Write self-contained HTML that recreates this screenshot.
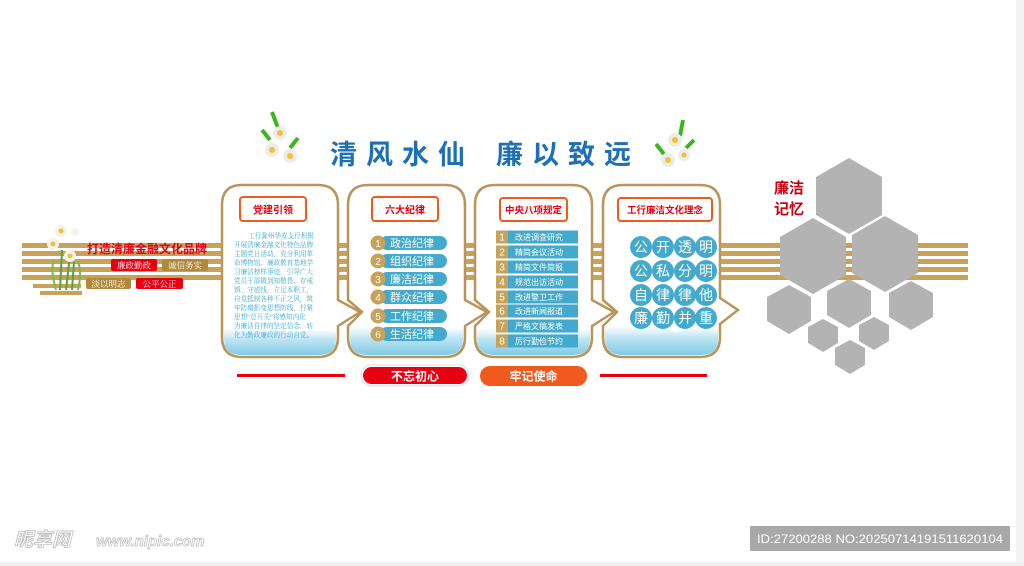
<!DOCTYPE html>
<html><head><meta charset="utf-8">
<style>
html,body{margin:0;padding:0;background:#fff;}
svg{display:block;font-family:"Liberation Sans","Noto Sans CJK SC",sans-serif;}
</style></head><body>
<svg width="1024" height="566" viewBox="0 0 1024 566" xmlns="http://www.w3.org/2000/svg">
<defs>
<linearGradient id="wat" x1="0" y1="0" x2="0" y2="1">
<stop offset="0" stop-color="#e6f5fb" stop-opacity="0"/>
<stop offset="0.4" stop-color="#c4e7f4"/>
<stop offset="1" stop-color="#7fcbe6"/>
</linearGradient>
</defs>
<g fill="#c9a25a">
<rect x="22" y="243" width="946" height="5"/>
<rect x="22" y="251" width="946" height="5"/>
<rect x="22" y="259" width="946" height="5"/>
<rect x="22" y="267" width="946" height="5"/>
<rect x="22" y="275" width="946" height="5"/>
<rect x="33" y="284" width="48" height="4"/>
<rect x="40" y="291" width="42" height="4"/>
</g>
<g>
<path d="M60 290 L62 250 M66 290 L70 255 M72 290 L74 262" stroke="#5aa23a" stroke-width="2" fill="none"/>
<path d="M56 290 Q50 270 54 260 M78 290 Q82 272 78 262" stroke="#7ab84a" stroke-width="2" fill="none"/>
<circle cx="61" cy="231" r="6" fill="#f3f3ee"/><circle cx="61" cy="231" r="2.5" fill="#f2c230"/>
<circle cx="53" cy="244" r="6" fill="#f3f3ee"/><circle cx="53" cy="244" r="2.5" fill="#f2c230"/>
<circle cx="70" cy="256" r="6" fill="#f3f3ee"/><circle cx="70" cy="256" r="2.5" fill="#f2c230"/>
<circle cx="75" cy="232" r="4" fill="#f3f3ee"/>
</g>
<text x="87" y="253" font-size="12" font-weight="bold" fill="#e60012">打造清廉金融文化品牌</text>
<rect x="111" y="259" width="46" height="12" rx="2" fill="#e60012"/><text x="134" y="268.5" font-size="8.5" fill="#fff" text-anchor="middle" font-family="Liberation Serif,Noto Serif CJK SC,serif">廉政勤政</text>
<rect x="162" y="259" width="46" height="12" rx="2" fill="#b08a3a"/><text x="185" y="268.5" font-size="8.5" fill="#fff" text-anchor="middle" font-family="Liberation Serif,Noto Serif CJK SC,serif">诚信务实</text>
<rect x="86" y="278" width="45" height="11" rx="2" fill="#b08a3a"/><text x="108.5" y="287" font-size="8.5" fill="#fff" text-anchor="middle" font-family="Liberation Serif,Noto Serif CJK SC,serif">淡以明志</text>
<rect x="136" y="278" width="47" height="11" rx="2" fill="#e60012"/><text x="159.5" y="287" font-size="8.5" fill="#fff" text-anchor="middle" font-family="Liberation Serif,Noto Serif CJK SC,serif">公平公正</text>

<text x="330" y="164" font-size="27" font-weight="bold" fill="#1f6fb5" letter-spacing="9">清风水仙</text>
<text x="496" y="164" font-size="27" font-weight="bold" fill="#1f6fb5" letter-spacing="9">廉以致远</text>
<g>
<path d="M272 112 L278 128 M262 130 L270 140 M298 138 L290 148" stroke="#3cb521" stroke-width="4" fill="none"/>
<circle cx="280" cy="133" r="7" fill="#ececec"/><circle cx="280" cy="133" r="3" fill="#f2c230"/>
<circle cx="272" cy="150" r="7" fill="#ececec"/><circle cx="272" cy="150" r="3" fill="#f2c230"/>
<circle cx="290" cy="156" r="7" fill="#ececec"/><circle cx="290" cy="156" r="3" fill="#f2c230"/>
<path d="M683 120 L680 136 M656 144 L664 154 M694 140 L686 148" stroke="#3cb521" stroke-width="4" fill="none"/>
<circle cx="675" cy="140" r="7" fill="#ececec"/><circle cx="675" cy="140" r="3" fill="#f2c230"/>
<circle cx="668" cy="160" r="7" fill="#ececec"/><circle cx="668" cy="160" r="3" fill="#f2c230"/>
<circle cx="684" cy="155" r="6" fill="#ececec"/><circle cx="684" cy="155" r="2.5" fill="#f2c230"/>
</g>

<g fill="#fff" stroke="#b8955a" stroke-width="2.5">
<path d="M242 185 H318 Q338 185 338 205 V300 L360 312 L338 326 V337 Q338 357 318 357 H242 Q222 357 222 337 V205 Q222 185 242 185 Z"/>
<path d="M368 185 H445 Q465 185 465 205 V300 L487 312 L465 326 V337 Q465 357 445 357 H368 Q348 357 348 337 V326 L362 312 L348 300 V205 Q348 185 368 185 Z"/>
<path d="M495 185 H572 Q592 185 592 205 V300 L614 312 L592 326 V337 Q592 357 572 357 H495 Q475 357 475 337 V326 L489 312 L475 300 V205 Q475 185 495 185 Z"/>
<path d="M623 185 H700 Q720 185 720 205 V298 L738 310 L720 324 V337 Q720 357 700 357 H623 Q603 357 603 337 V326 L617 312 L603 300 V205 Q603 185 623 185 Z"/>
</g>
<g fill="url(#wat)">
<path d="M224 330 Q260 322 290 334 Q315 328 336 332 V340 Q336 355 318 355 H242 Q224 355 224 340 Z"/>
<path d="M350 328 Q390 320 420 332 Q445 326 463 330 V340 Q463 355 445 355 H368 Q350 355 350 340 Z"/>
<path d="M477 330 Q515 322 545 334 Q570 326 590 330 V340 Q590 355 572 355 H495 Q477 355 477 340 Z"/>
<path d="M605 328 Q645 318 675 332 Q700 326 718 330 V340 Q718 355 700 355 H623 Q605 355 605 340 Z"/>
</g>

<rect x="240" y="197" width="66" height="24" rx="3" fill="#fff" stroke="#f05a1e" stroke-width="2"/>
<text x="273" y="213.5" font-size="10" font-weight="bold" fill="#e60012" text-anchor="middle">党建引领</text>
<g font-size="6.6" fill="#3aa7d0" font-family="Liberation Serif,Noto Serif CJK SC,serif">
<text x="248" y="238">工行滁州华安支行积极</text>
<text x="234" y="247">开展清廉金融文化特色品牌</text>
<text x="234" y="256">主题党日活动，充分利用革</text>
<text x="234" y="265">命博物馆、廉政教育基地学</text>
<text x="234" y="274">习廉洁榜样事迹，引导广大</text>
<text x="234" y="283">党员干部做到知敬畏、存戒</text>
<text x="234" y="292">惧、守底线，立足本职工，</text>
<text x="234" y="301">自觉抵制各种不正之风，筑</text>
<text x="234" y="310">牢防腐拒变思想防线，拧紧</text>
<text x="234" y="319">思想“总开关”将感知内化</text>
<text x="234" y="328">为廉洁自律的坚定信念，转</text>
<text x="234" y="337">化为勤政廉政的行动自觉。</text>
</g>

<rect x="372" y="197" width="66" height="24" rx="3" fill="#fff" stroke="#f05a1e" stroke-width="2"/>
<text x="405" y="213.5" font-size="10" font-weight="bold" fill="#e60012" text-anchor="middle">六大纪律</text>
<g font-size="11" fill="#fff">
<g transform="translate(0,243)"><rect x="380" y="-7" width="67" height="14" rx="7" fill="#43aacd"/><circle cx="378" cy="0" r="7.5" fill="#c9a25a"/><text x="378" y="4" text-anchor="middle" font-size="10">1</text><text x="390" y="4">政治纪律</text></g>
<g transform="translate(0,261)"><rect x="380" y="-7" width="67" height="14" rx="7" fill="#43aacd"/><circle cx="378" cy="0" r="7.5" fill="#c9a25a"/><text x="378" y="4" text-anchor="middle" font-size="10">2</text><text x="390" y="4">组织纪律</text></g>
<g transform="translate(0,279)"><rect x="380" y="-7" width="67" height="14" rx="7" fill="#43aacd"/><circle cx="378" cy="0" r="7.5" fill="#c9a25a"/><text x="378" y="4" text-anchor="middle" font-size="10">3</text><text x="390" y="4">廉洁纪律</text></g>
<g transform="translate(0,297)"><rect x="380" y="-7" width="67" height="14" rx="7" fill="#43aacd"/><circle cx="378" cy="0" r="7.5" fill="#c9a25a"/><text x="378" y="4" text-anchor="middle" font-size="10">4</text><text x="390" y="4">群众纪律</text></g>
<g transform="translate(0,316)"><rect x="380" y="-7" width="67" height="14" rx="7" fill="#43aacd"/><circle cx="378" cy="0" r="7.5" fill="#c9a25a"/><text x="378" y="4" text-anchor="middle" font-size="10">5</text><text x="390" y="4">工作纪律</text></g>
<g transform="translate(0,334)"><rect x="380" y="-7" width="67" height="14" rx="7" fill="#43aacd"/><circle cx="378" cy="0" r="7.5" fill="#c9a25a"/><text x="378" y="4" text-anchor="middle" font-size="10">6</text><text x="390" y="4">生活纪律</text></g>
</g>

<rect x="500" y="198" width="67" height="23" rx="3" fill="#fff" stroke="#f05a1e" stroke-width="2"/>
<text x="533.5" y="213.5" font-size="9.5" font-weight="bold" fill="#e60012" text-anchor="middle">中央八项规定</text>
<g font-size="8" fill="#fff">
<g transform="translate(0,237)"><rect x="496" y="-6.5" width="12" height="13" fill="#c9a25a"/><rect x="508" y="-6.5" width="70" height="13" fill="#43aacd"/><text x="502" y="3.5" text-anchor="middle" font-size="10">1</text><text x="515" y="3">改进调查研究</text></g>
<g transform="translate(0,252)"><rect x="496" y="-6.5" width="12" height="13" fill="#c9a25a"/><rect x="508" y="-6.5" width="70" height="13" fill="#43aacd"/><text x="502" y="3.5" text-anchor="middle" font-size="10">2</text><text x="515" y="3">精简会议活动</text></g>
<g transform="translate(0,267)"><rect x="496" y="-6.5" width="12" height="13" fill="#c9a25a"/><rect x="508" y="-6.5" width="70" height="13" fill="#43aacd"/><text x="502" y="3.5" text-anchor="middle" font-size="10">3</text><text x="515" y="3">精简文件简报</text></g>
<g transform="translate(0,282)"><rect x="496" y="-6.5" width="12" height="13" fill="#c9a25a"/><rect x="508" y="-6.5" width="70" height="13" fill="#43aacd"/><text x="502" y="3.5" text-anchor="middle" font-size="10">4</text><text x="515" y="3">规范出访活动</text></g>
<g transform="translate(0,297)"><rect x="496" y="-6.5" width="12" height="13" fill="#c9a25a"/><rect x="508" y="-6.5" width="70" height="13" fill="#43aacd"/><text x="502" y="3.5" text-anchor="middle" font-size="10">5</text><text x="515" y="3">改进警卫工作</text></g>
<g transform="translate(0,311)"><rect x="496" y="-6.5" width="12" height="13" fill="#c9a25a"/><rect x="508" y="-6.5" width="70" height="13" fill="#43aacd"/><text x="502" y="3.5" text-anchor="middle" font-size="10">6</text><text x="515" y="3">改进新闻报道</text></g>
<g transform="translate(0,326)"><rect x="496" y="-6.5" width="12" height="13" fill="#c9a25a"/><rect x="508" y="-6.5" width="70" height="13" fill="#43aacd"/><text x="502" y="3.5" text-anchor="middle" font-size="10">7</text><text x="515" y="3">严格文稿发表</text></g>
<g transform="translate(0,341)"><rect x="496" y="-6.5" width="12" height="13" fill="#c9a25a"/><rect x="508" y="-6.5" width="70" height="13" fill="#43aacd"/><text x="502" y="3.5" text-anchor="middle" font-size="10">8</text><text x="515" y="3">厉行勤俭节约</text></g>
</g>

<rect x="618" y="198" width="94" height="23" rx="3" fill="#fff" stroke="#f05a1e" stroke-width="2"/>
<text x="665" y="213.5" font-size="9.5" font-weight="bold" fill="#e60012" text-anchor="middle">工行廉洁文化理念</text>
<g fill="#43aacd">
<circle cx="641" cy="247" r="11"/><circle cx="663" cy="247" r="11"/><circle cx="685" cy="247" r="11"/><circle cx="706" cy="247" r="11"/>
<circle cx="641" cy="271" r="11"/><circle cx="663" cy="271" r="11"/><circle cx="685" cy="271" r="11"/><circle cx="706" cy="271" r="11"/>
<circle cx="641" cy="295" r="11"/><circle cx="663" cy="295" r="11"/><circle cx="685" cy="295" r="11"/><circle cx="706" cy="295" r="11"/>
<circle cx="641" cy="318" r="11"/><circle cx="663" cy="318" r="11"/><circle cx="685" cy="318" r="11"/><circle cx="706" cy="318" r="11"/>
</g>
<g font-size="14" fill="#fff" text-anchor="middle">
<text x="641" y="252">公</text><text x="663" y="252">开</text><text x="685" y="252">透</text><text x="706" y="252">明</text>
<text x="641" y="276">公</text><text x="663" y="276">私</text><text x="685" y="276">分</text><text x="706" y="276">明</text>
<text x="641" y="300">自</text><text x="663" y="300">律</text><text x="685" y="300">律</text><text x="706" y="300">他</text>
<text x="641" y="323">廉</text><text x="663" y="323">勤</text><text x="685" y="323">并</text><text x="706" y="323">重</text>
</g>

<rect x="237" y="374" width="108" height="3" fill="#e60012"/>
<rect x="600" y="374" width="107" height="3" fill="#e60012"/>
<rect x="361" y="365" width="108" height="21" rx="10.5" fill="#fff" stroke="#ddd" stroke-width="1"/>
<rect x="363" y="367" width="104" height="17" rx="8.5" fill="#e60012"/>
<text x="415" y="380.5" font-size="12" font-weight="bold" fill="#fff" text-anchor="middle">不忘初心</text>
<rect x="480" y="366" width="107" height="20" rx="10" fill="#f05a1e"/>
<text x="533.5" y="380.5" font-size="12" font-weight="bold" fill="#fff" text-anchor="middle">牢记使命</text>

<g fill="#b3b3b3">
<polygon points="849,158 882,177 882,215 849,234 816,215 816,177"/>
<polygon points="813,218 846,237 846,275 813,294 780,275 780,237"/>
<polygon points="885,216 918,235 918,273 885,292 852,273 852,235"/>
<polygon points="789,285 811,297 811,321 789,334 767,321 767,297"/>
<polygon points="849,279 871,291 871,315 849,328 827,315 827,291"/>
<polygon points="911,281 933,293 933,317 911,330 889,317 889,293"/>
<polygon points="823,319 838,327 838,343 823,352 808,343 808,327"/>
<polygon points="874,317 889,325 889,341 874,350 859,341 859,325"/>
<polygon points="850,340 865,348 865,365 850,374 835,365 835,348"/>
</g>
<text x="774" y="193" font-size="15" font-weight="bold" fill="#c8000f">廉洁</text>
<text x="774" y="214" font-size="15" font-weight="bold" fill="#c8000f">记忆</text>

<text x="14" y="546" font-size="19" font-weight="bold" fill="#fff" stroke="#bbb" stroke-width="0.8" font-style="italic">昵享网</text>
<text x="96" y="546" font-size="15" font-weight="bold" fill="#fff" stroke="#bbb" stroke-width="0.7" font-style="italic">www.nipic.com</text>
<rect x="750" y="526" width="260" height="25" rx="1" fill="#a8a8a8"/>
<text x="880" y="543" font-size="12" fill="#fff" text-anchor="middle" textLength="246" lengthAdjust="spacingAndGlyphs">ID:27200288 NO:20250714191511620104</text>
<rect x="1016" y="0" width="8" height="566" fill="#f4f4f4"/>
<rect x="0" y="562" width="1024" height="4" fill="#f0f0f0"/>
</svg>
</body></html>
